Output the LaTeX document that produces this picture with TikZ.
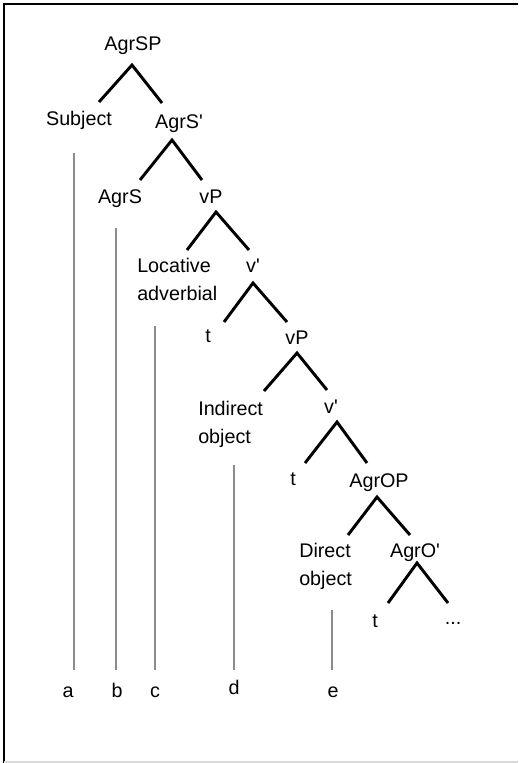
\documentclass[tikz,border=0pt]{standalone}
\usepackage{fontspec}
\newfontfamily\labfont{Liberation Sans}
\usetikzlibrary{calc}

\begin{document}
\begin{tikzpicture}[
  x=0.75pt, y=-0.75pt,
  font=\labfont\fontsize{14.8}{21}\selectfont,
  lbl/.style={anchor=base, inner sep=0pt},
  mlbl/.style={anchor=base west, align=left, inner sep=0pt},
  branch/.style={line width=2.2pt, line join=miter},
  trace/.style={draw=black!45, line width=1.3pt},
]

\useasboundingbox (0,0) rectangle (518,763);

%% frame
\draw[line width=2pt] (518,4) -- (4,4) -- (4,763);
\draw[black!15, line width=1pt] (4,762) -- (518,762);

%% ===== TREE LABELS =====
\node[lbl] (agrsp)   at (133,51)  {AgrSP};
\node[lbl] (subj)    at (79,126)  {Subject};
\node[lbl] (agrsbar) at (179,128) {AgrS'};
\node[lbl] (agrs)    at (120,203) {AgrS};
\node[lbl] (vp1)     at (211,203) {vP};
\node[mlbl] (loc)    at (137,300) {Locative\\adverbial};
\node[lbl] (vbar1)   at (253,272) {v'};
\node[lbl] (t1)      at (208,342) {t};
\node[lbl] (vp2)     at (297,344) {vP};
\node[mlbl] (indobj) at (198,443) {Indirect\\object};
\node[lbl] (vbar2)   at (331,413) {v'};
\node[lbl] (t2)      at (293,485) {t};
\node[lbl] (agrop)   at (379,487) {AgrOP};
\node[mlbl] (dirobj) at (299,585) {Direct\\object};
\node[lbl] (agrobar) at (415,557) {AgrO'};
\node[lbl] (t3)      at (375,627) {t};
\node[lbl] (dots)    at (453,624) {...};

%% ===== TRACE LETTERS =====
\node[lbl] (a) at (68,697)  {a};
\node[lbl] (b) at (117,697) {b};
\node[lbl] (c) at (155,697) {c};
\node[lbl] (d) at (234,694) {d};
\node[lbl] (e) at (333,697) {e};

%% ===== BRANCHES =====
\draw[branch] ($(subj.base)+(20,-24)$) -- ($(agrsp.base)+(-1,14)$) -- ($(agrsbar.base)+(-17,-25)$);
\draw[branch] ($(agrs.base)+(20,-23)$) -- ($(agrsbar.base)+(-7,12)$) -- ($(vp1.base)+(-9,-23)$);
\draw[branch] ($(loc.base west)+(50,-50)$) -- ($(vp1.base)+(5,9)$) -- ($(vbar1.base)+(-4,-22)$);
\draw[branch] ($(t1.base)+(16,-20)$) -- ($(vbar1.base)+(0,11)$) -- ($(vp2.base)+(-10,-22)$);
\draw[branch] ($(indobj.base west)+(66,-52)$) -- ($(vp2.base)+(0,9)$) -- ($(vbar2.base)+(-4,-23)$);
\draw[branch] ($(t2.base)+(12,-22)$) -- ($(vbar2.base)+(6,9)$) -- ($(agrop.base)+(-12,-24)$);
\draw[branch] ($(dirobj.base west)+(49,-50)$) -- ($(agrop.base)+(-2,10)$) -- ($(agrobar.base)+(-5,-22)$);
\draw[branch] ($(t3.base)+(13,-24)$) -- ($(agrobar.base)+(2,6)$) -- ($(dots.base)+(-5,-21)$);

%% ===== TRACES =====
\draw[trace] ($(subj.base)+(-5,27)$)        -- ($(a.base)+(6,-27)$);
\draw[trace] ($(agrs.base)+(-4,25)$)        -- ($(b.base)+(-1,-27)$);
\draw[trace] ($(loc.base west)+(18,26)$)    -- ($(c.base)+(0,-27)$);
\draw[trace] ($(indobj.base west)+(36,22)$) -- ($(d.base)+(0,-24)$);
\draw[trace] ($(dirobj.base west)+(33,25)$) -- ($(e.base)+(-1,-27)$);

\end{tikzpicture}
\end{document}
